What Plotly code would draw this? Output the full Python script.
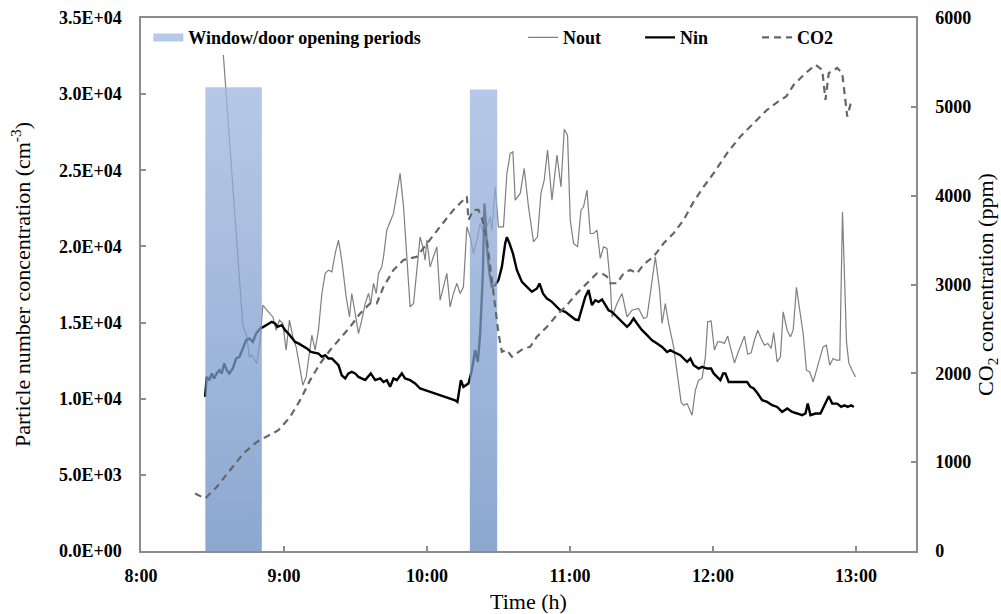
import plotly.graph_objects as go

# ---------------- data (time in decimal hours) ----------------
nout_time = [8.576, 8.712, 8.740, 8.758, 8.775, 8.810, 8.833, 8.852, 8.891, 8.922,
             8.945, 8.968, 8.992, 9.015, 9.038, 9.062, 9.085, 9.132, 9.155, 9.178,
             9.195, 9.218, 9.241, 9.265, 9.288, 9.311, 9.335, 9.358, 9.381, 9.404,
             9.435, 9.458, 9.474, 9.498, 9.521, 9.544, 9.568, 9.591, 9.607, 9.626,
             9.645, 9.661, 9.684, 9.696, 9.719, 9.742, 9.766, 9.789, 9.812, 9.836,
             9.859, 9.882, 9.906, 9.929, 9.952, 9.971, 9.987, 9.999, 10.022, 10.045,
             10.069, 10.092, 10.115, 10.139, 10.162, 10.185, 10.209, 10.232, 10.255, 10.279,
             10.302, 10.325, 10.349, 10.372, 10.395, 10.407, 10.419, 10.442, 10.454, 10.477,
             10.500, 10.535, 10.559, 10.582, 10.601, 10.617, 10.652, 10.680, 10.710, 10.745,
             10.773, 10.797, 10.820, 10.843, 10.874, 10.909, 10.937, 10.960, 10.983, 11.002,
             11.025, 11.053, 11.077, 11.095, 11.119, 11.142, 11.165, 11.189, 11.212, 11.235,
             11.259, 11.282, 11.294, 11.329, 11.364, 11.399, 11.434, 11.480, 11.515, 11.539,
             11.562, 11.597, 11.627, 11.644, 11.667, 11.690, 11.725, 11.749, 11.777, 11.795,
             11.819, 11.854, 11.877, 11.900, 11.924, 11.947, 11.963, 11.987, 12.010, 12.033,
             12.057, 12.080, 12.103, 12.127, 12.150, 12.173, 12.197, 12.220, 12.243, 12.267,
             12.290, 12.313, 12.337, 12.360, 12.383, 12.407, 12.425, 12.449, 12.472, 12.491,
             12.519, 12.542, 12.561, 12.584, 12.607, 12.631, 12.654, 12.677, 12.701, 12.724,
             12.747, 12.770, 12.793, 12.817, 12.840, 12.864, 12.887, 12.906, 12.934, 12.950,
             12.973, 12.997]
nout_values = [32570, 14830, 14060, 12750, 12860, 12310, 13840, 16140, 15700, 15370,
               14500, 15160, 14940, 13190, 15160, 14060, 13400, 10890, 11430, 13190,
               14170, 13190, 14500, 16910, 18230, 18440, 18330, 19540, 20410, 19100,
               16690, 15370, 16910, 15600, 14280, 15160, 16250, 16910, 16250, 17570,
               16910, 18230, 18660, 19320, 21070, 21620, 22170, 23480, 24800, 22600,
               19320, 16030, 16250, 18230, 20630, 19970, 19100, 20410, 18660, 19320,
               19970, 16470, 17350, 18230, 16030, 16910, 17570, 16910, 17350, 21290,
               20630, 19540, 20410, 21510, 20850, 22600, 21290, 21940, 21070, 23920,
               21290, 21290, 24800, 26110, 26210, 23040, 23480, 25120, 22600, 20300,
               20630, 23480, 24360, 26330, 23040, 26000, 23920, 27690, 27310, 21730,
               20200, 19970, 22380, 22600, 23700, 20850, 20850, 21070, 19210, 19970,
               19870, 17570, 15370, 16250, 16910, 15370, 15810, 15930, 15270, 15370,
               16910, 19320, 17130, 14940, 16250, 14940, 13400, 11660, 9790, 9570,
               9680, 8920, 10560, 11220, 11330, 12750, 15050, 15110, 13190, 13730,
               13730, 13630, 14110, 13190, 12350, 12970, 13510, 14110, 12920, 13010,
               13840, 14500, 13960, 13510, 13630, 13300, 14350, 12420, 12750, 15700,
               14500, 14060, 14500, 17310, 15810, 14280, 11870, 11760, 11100, 11870,
               12640, 13400, 13510, 12200, 12640, 12530, 12530, 22270, 13730, 12350,
               11870, 11430]

nin_time = [8.448, 8.460, 8.478, 8.495, 8.511, 8.530, 8.548, 8.565, 8.581, 8.600,
            8.618, 8.642, 8.665, 8.688, 8.712, 8.735, 8.758, 8.782, 8.805, 8.833,
            8.856, 8.891, 8.915, 8.938, 8.954, 8.985, 9.008, 9.031, 9.055, 9.078,
            9.101, 9.136, 9.160, 9.188, 9.211, 9.241, 9.265, 9.288, 9.311, 9.335,
            9.358, 9.381, 9.404, 9.428, 9.451, 9.474, 9.498, 9.521, 9.568, 9.607,
            9.638, 9.673, 9.696, 9.719, 9.742, 9.766, 9.789, 9.824, 9.847, 9.882,
            9.917, 9.952, 9.987, 10.022, 10.057, 10.092, 10.127, 10.162, 10.197, 10.213,
            10.237, 10.255, 10.290, 10.314, 10.337, 10.356, 10.372, 10.391, 10.402, 10.419,
            10.437, 10.454, 10.477, 10.500, 10.524, 10.547, 10.559, 10.577, 10.601, 10.629,
            10.664, 10.699, 10.734, 10.769, 10.787, 10.811, 10.839, 10.874, 10.909, 10.932,
            10.967, 11.002, 11.037, 11.060, 11.084, 11.107, 11.130, 11.154, 11.177, 11.200,
            11.224, 11.247, 11.270, 11.294, 11.317, 11.340, 11.364, 11.399, 11.422, 11.445,
            11.469, 11.504, 11.539, 11.574, 11.609, 11.644, 11.679, 11.702, 11.725, 11.749,
            11.772, 11.795, 11.819, 11.842, 11.865, 11.900, 11.924, 11.959, 11.987, 12.005,
            12.029, 12.052, 12.071, 12.087, 12.110, 12.145, 12.180, 12.215, 12.239, 12.262,
            12.285, 12.313, 12.344, 12.379, 12.414, 12.449, 12.484, 12.519, 12.554, 12.589,
            12.623, 12.647, 12.663, 12.682, 12.717, 12.752, 12.780, 12.810, 12.834, 12.869,
            12.897, 12.920, 12.943, 12.967, 12.985]
nin_values = [10120, 11430, 11220, 11660, 11330, 11660, 11870, 11660, 12310, 11870,
              11660, 11980, 12640, 12750, 13300, 13840, 13960, 13730, 14280, 14610,
              14720, 14940, 15050, 14940, 14720, 14830, 14500, 14280, 13960, 13730,
              13630, 13450, 13300, 13070, 13010, 12970, 12750, 12860, 12640, 12640,
              12420, 12200, 11540, 11330, 11660, 11760, 11660, 11430, 11220, 11660,
              11220, 11330, 11100, 11220, 10780, 11330, 11220, 11660, 11330, 11220,
              11000, 10670, 10560, 10450, 10340, 10230, 10120, 10010, 9900, 9790,
              11220, 10780, 11000, 11870, 13190, 12420, 14280, 18230, 22820, 19970,
              18230, 17350, 17460, 17790, 18660, 20200, 20610, 20200, 19540, 18440,
              17670, 17350, 17020, 17240, 17570, 16910, 16580, 16360, 16030, 15810,
              15700, 15420, 15200, 15160, 16030, 16690, 17130, 16140, 16470, 16360,
              16520, 16140, 15810, 15700, 15490, 15270, 15050, 14720, 14940, 15270,
              14940, 14500, 14170, 13840, 13630, 13400, 13070, 13190, 13070, 12970,
              12860, 12640, 12420, 12640, 12200, 11980, 12090, 11980, 11980, 11660,
              11430, 11220, 11660, 11660, 11100, 11100, 11100, 11100, 11100, 10780,
              10670, 10340, 9900, 9790, 9570, 9460, 9130, 9360, 9130, 9030,
              8920, 9030, 9680, 8920, 9030, 9030, 9570, 10160, 9680, 9680,
              9460, 9570, 9460, 9570, 9460]

co2_time = [8.378, 8.448, 8.530, 8.623, 8.716, 8.810, 8.880, 8.961, 9.043, 9.113,
            9.183, 9.253, 9.323, 9.404, 9.463, 9.533, 9.603, 9.649, 9.696, 9.766,
            9.836, 9.929, 9.999, 10.092, 10.185, 10.279, 10.290, 10.325, 10.360, 10.384,
            10.419, 10.454, 10.477, 10.500, 10.524, 10.559, 10.594, 10.629, 10.675, 10.722,
            10.769, 10.839, 10.909, 10.979, 11.049, 11.119, 11.189, 11.224, 11.259, 11.282,
            11.329, 11.375, 11.422, 11.469, 11.504, 11.539, 11.585, 11.655, 11.725, 11.795,
            11.865, 11.935, 12.005, 12.099, 12.192, 12.285, 12.379, 12.472, 12.513, 12.565,
            12.635, 12.717, 12.764, 12.787, 12.810, 12.869, 12.904, 12.939, 12.967]
co2_values = [647, 591, 721, 909, 1098, 1228, 1285, 1360, 1510, 1698,
              1924, 2112, 2262, 2412, 2524, 2675, 2788, 2788, 2975, 3163,
              3276, 3313, 3464, 3651, 3840, 3990, 3727, 3840, 3840, 3746,
              3502, 3051, 2750, 2450, 2243, 2262, 2186, 2225, 2281, 2299,
              2412, 2524, 2656, 2769, 2901, 3014, 3126, 3126, 3088, 3014,
              3014, 3126, 3163, 3126, 3201, 3257, 3313, 3464, 3577, 3727,
              3933, 4102, 4253, 4479, 4666, 4817, 4967, 5079, 5117, 5248,
              5361, 5474, 5417, 5079, 5380, 5437, 5380, 4891, 5060]

open_start = [8.450, 10.300]
open_end = [8.845, 10.491]
open_top = [30450, 30300]

x_tick_values = [8, 9, 10, 11, 12, 13]
x_tick_labels = ["8:00", "9:00", "10:00", "11:00", "12:00", "13:00"]
yl_tick_values = [0, 5000, 10000, 15000, 20000, 25000, 30000, 35000]
yl_tick_labels = ["0.0E+00", "5.0E+03", "1.0E+04", "1.5E+04", "2.0E+04",
                  "2.5E+04", "3.0E+04", "3.5E+04"]
yr_tick_values = [0, 1000, 2000, 3000, 4000, 5000, 6000]
yr_tick_labels = ["0", "1000", "2000", "3000", "4000", "5000", "6000"]

# ---------------- styling ----------------
SERIF = "Liberation Serif"
AXIS_GRAY = "#8c8c8c"
tick_font = dict(family=SERIF, size=18, color="black", weight="bold")
title_font = dict(family=SERIF, size=22, color="black")
legend_font = dict(family=SERIF, size=18, color="black", weight="bold")

fig = go.Figure()

fig.add_trace(go.Scatter(
    x=nout_time, y=nout_values, mode="lines", name="Nout",
    line=dict(color="#7f7f7f", width=1.2), legend="legend2"))
fig.add_trace(go.Scatter(
    x=nin_time, y=nin_values, mode="lines", name="Nin",
    line=dict(color="black", width=2.4), legend="legend2"))
fig.add_trace(go.Scatter(
    x=co2_time, y=co2_values, mode="lines", name="CO2", yaxis="y2",
    line=dict(color="#666666", width=2.2, dash="7px,5px"), legend="legend2"))

# window / door opening periods (semi-transparent gradient columns over the lines)
for s, e, top in zip(open_start, open_end, open_top):
    fig.add_trace(go.Scatter(
        x=[s, s, e, e, s], y=[0, top, top, 0, 0], mode="lines",
        fill="toself", line=dict(width=0, color="rgba(0,0,0,0)"),
        fillgradient=dict(type="vertical",
                          colorscale=[[0, "rgba(102,139,192,0.75)"],
                                      [1, "rgba(158,182,224,0.75)"]]),
        showlegend=False, hoverinfo="skip"))

# legend entry for the opening periods
fig.add_trace(go.Scatter(
    x=[None], y=[None], mode="lines", name="Window/door opening periods",
    line=dict(color="rgb(182,201,232)", width=8), legend="legend"))

fig.update_layout(
    width=1001, height=614,
    margin=dict(l=141, r=85, t=18, b=63),
    paper_bgcolor="white", plot_bgcolor="white",
    font=dict(family=SERIF, color="black"),
    xaxis=dict(range=[8, 13.42], tickvals=x_tick_values, ticktext=x_tick_labels,
               automargin=False,
               showgrid=False, zeroline=False, showline=True, mirror=True,
               linecolor=AXIS_GRAY, linewidth=1.5,
               ticks="inside", ticklen=5, tickcolor=AXIS_GRAY, tickwidth=1.5,
               tickfont=tick_font, ticklabelstandoff=8,
               title=dict(text="Time (h)", font=title_font, standoff=10)),
    yaxis=dict(range=[0, 35000], tickvals=yl_tick_values, ticktext=yl_tick_labels,
               automargin=False,
               showgrid=False, zeroline=False, showline=True,
               linecolor=AXIS_GRAY, linewidth=1.5,
               ticks="inside", ticklen=5, tickcolor=AXIS_GRAY, tickwidth=1.5,
               tickfont=tick_font, ticklabelstandoff=14,
               title=dict(text="Particle number concentration (cm<sup>-3</sup>)",
                          font=title_font, standoff=22)),
    yaxis2=dict(range=[0, 6000], tickvals=yr_tick_values, ticktext=yr_tick_labels,
                overlaying="y", side="right", automargin=False,
                showgrid=False, zeroline=False, showline=True,
                linecolor=AXIS_GRAY, linewidth=1.5,
                ticks="inside", ticklen=5, tickcolor=AXIS_GRAY, tickwidth=1.5,
                tickfont=tick_font, ticklabelstandoff=14,
                title=dict(text="CO<sub>2</sub> concentration (ppm)",
                           font=title_font, standoff=13)),
    legend=dict(x=0.0095, y=0.963, xanchor="left", yanchor="middle",
                orientation="h", font=legend_font, bgcolor="rgba(0,0,0,0)",
                borderwidth=0),
    legend2=dict(x=0.493, y=0.963, xanchor="left", yanchor="middle",
                 orientation="h", font=legend_font, bgcolor="rgba(0,0,0,0)",
                 borderwidth=0, entrywidth=72, entrywidthmode="pixels"),
    showlegend=True,
)

fig.write_html("out.html")
